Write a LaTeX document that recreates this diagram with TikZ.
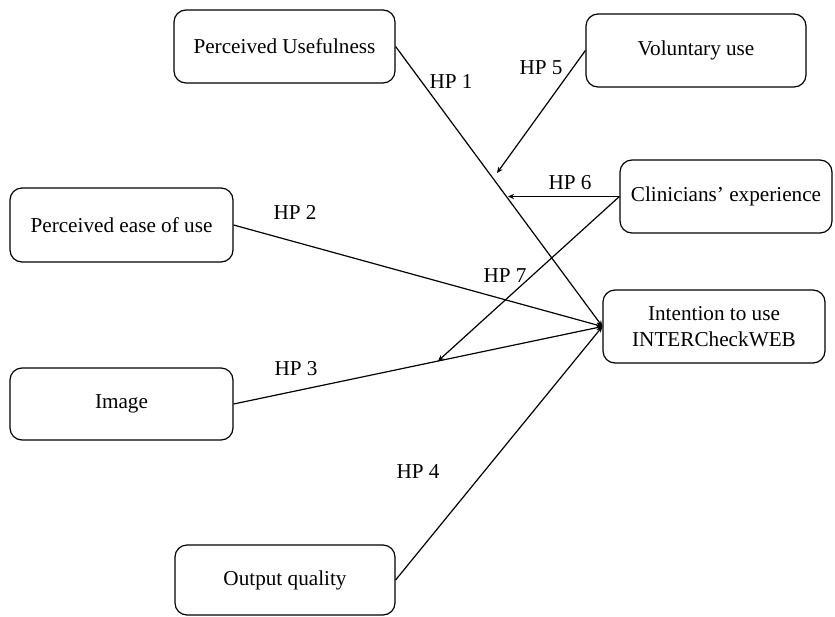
\documentclass[tikz,border=0pt]{standalone}
\usepackage{fontspec}
\setmainfont{Liberation Serif}
\usetikzlibrary{arrows.meta}
\begin{document}
\begin{tikzpicture}[x=0.5pt,y=-0.5pt,
  box/.style={draw,rounded corners=6pt,line width=0.6pt,inner sep=0pt,align=center,
    font=\fontsize{10.6}{13}\selectfont},
  hp/.style={font=\fontsize{10.6}{13}\selectfont,inner sep=0pt},
  conn/.style={line width=0.6pt,-{Stealth[length=3pt,width=2.6pt]}}]
\useasboundingbox (0,0) rectangle (835,616);
\node[box,minimum width=110.5pt,minimum height=36.5pt] (PU) at (284.5,46.5) {Perceived Usefulness};
\node[box,minimum width=110pt,minimum height=36.5pt] (Vol) at (696,50.5) {Voluntary use};
\node[box,minimum width=106pt,minimum height=36.5pt] (Clin) at (726,196.5) {Clinicians’ experience};
\node[box,minimum width=111.5pt,minimum height=37pt] (PEOU) at (121.5,225) {Perceived ease of use};
\node[box,minimum width=111pt,minimum height=36.5pt] (Int) at (714,326.5) {Intention to use\\INTERCheckWEB};
\node[box,minimum width=111.5pt,minimum height=36pt] (Img) at (121.5,404) {Image};
\node[box,minimum width=110pt,minimum height=35pt] (OQ) at (285,580) {Output quality};
\coordinate (e5) at (497,173);
\coordinate (e6) at (508,196.5);
\coordinate (e7) at (438,361);
\draw[conn] (PU.east) -- (Int.west);
\draw[conn] (PEOU.east) -- (Int.west);
\draw[conn] (Img.east) -- (Int.west);
\draw[conn] (OQ.east) -- (Int.west);
\draw[conn] (Vol.west) -- (e5);
\draw[conn] (Clin.west) -- (e6);
\draw[conn] (Clin.west) -- (e7);
\node[hp] (h1) at (451,81) {HP 1};
\node[hp] (h5) at (541,68) {HP 5};
\node[hp] (h6) at (570,183) {HP 6};
\node[hp] (h2) at (295,212) {HP 2};
\node[hp] (h7) at (505,276) {HP 7};
\node[hp] (h3) at (296,369) {HP 3};
\node[hp] (h4) at (418,472) {HP 4};
\end{tikzpicture}
\end{document}
